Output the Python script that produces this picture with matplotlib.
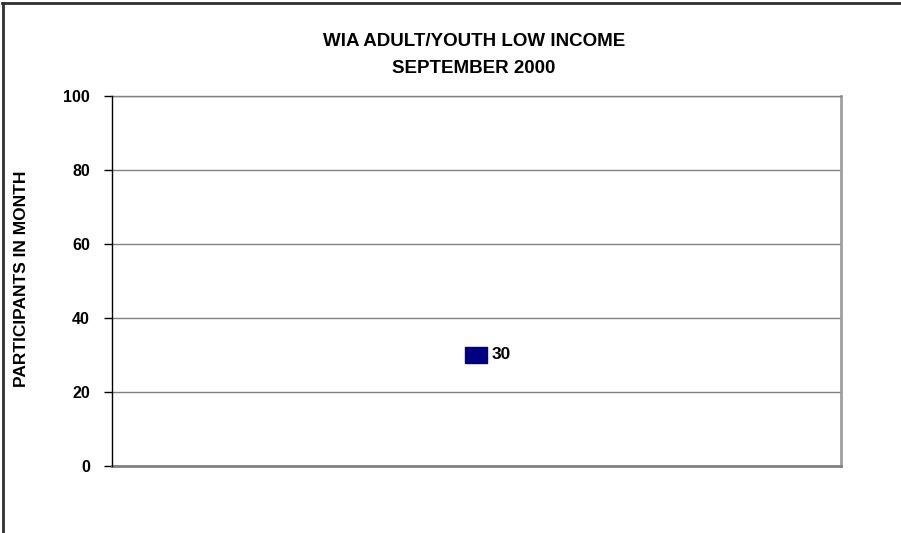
import matplotlib
matplotlib.use("Agg")
import matplotlib.pyplot as plt
from matplotlib.lines import Line2D

# monthly participant count (one category)
months = ["SEPTEMBER 2000"]
participants = [30]
yticks = [0, 20, 40, 60, 80, 100]

plt.rcParams['font.family'] = ['Liberation Sans', 'DejaVu Sans']

fig = plt.figure(figsize=(9.01, 5.33), dpi=100)
ax = fig.add_axes([0.1243, 0.1257, 0.8091, 0.6942])

x = list(range(len(months)))
# flat rectangular marker like the old spreadsheet style
rect = [(-1, -0.7), (1, -0.7), (1, 0.7), (-1, 0.7), (-1, -0.7)]
ax.plot(x, participants, linestyle='none', marker=rect, markersize=15.5,
        color='#000080', markeredgecolor='#000080')
for xi, v in zip(x, participants):
    ax.annotate(str(v), (xi, v), xytext=(11, 0), textcoords='offset points',
                ha='left', va='center', fontsize=12.5, fontweight='bold')

ax.set_xlim(-0.5, 0.5)
ax.set_ylim(0, 100)
ax.set_yticks(yticks)
ax.set_yticklabels([str(t) for t in yticks], fontsize=11.5, fontweight='bold')
ax.set_xticks([])
ax.tick_params(axis='y', direction='out', length=6, width=1, color='black', pad=10)

ax.yaxis.grid(True, color='#808080', linewidth=1)
ax.set_axisbelow(True)
ax.spines['left'].set_color('black')
ax.spines['left'].set_linewidth(1)
ax.spines['left'].set_zorder(3)
ax.spines['bottom'].set_color('#808080')
ax.spines['bottom'].set_linewidth(2)
ax.spines['right'].set_color('#a0a0a0')
ax.spines['right'].set_linewidth(2)
ax.spines['top'].set_color('#808080')
ax.spines['top'].set_linewidth(1)

ax.set_ylabel("PARTICIPANTS IN MONTH", fontsize=12.5, fontweight='bold')
ax.yaxis.set_label_coords(-0.114, 0.505)

fig.text(0.526, 0.923, "WIA ADULT/YOUTH LOW INCOME", ha='center', va='center',
         fontsize=13.5, fontweight='bold')
fig.text(0.526, 0.872, months[0], ha='center', va='center',
         fontsize=13.5, fontweight='bold')

# outer chart border (top and left edges visible)
fig.add_artist(Line2D([0.002, 1.0], [0.995, 0.995], transform=fig.transFigure,
                      color='#303030', linewidth=2))
fig.add_artist(Line2D([0.003, 0.003], [0.0, 0.995], transform=fig.transFigure,
                      color='#303030', linewidth=2))

fig.savefig("out.png", dpi=100)
